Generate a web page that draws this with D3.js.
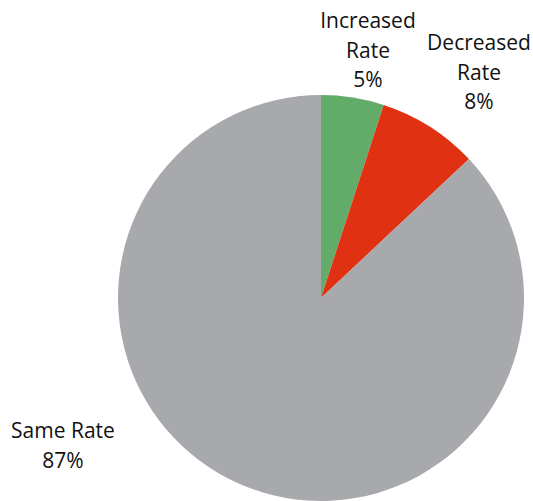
<!DOCTYPE html>
<html>
<head>
<meta charset="utf-8">
<script src="https://cdn.jsdelivr.net/npm/d3@7"></script>
<style>
  html, body { margin: 0; padding: 0; background: #fff; }
  svg { display: block; }
  text { font-family: "Open Sans", sans-serif; fill: #111; }
</style>
</head>
<body>
<svg id="chart" width="533" height="501"></svg>
<script>
// Share of rates
const categories = ["Increased Rate", "Decreased Rate", "Same Rate"];
const values = [5, 8, 87];
const colors = ["#63ab69", "#e03213", "#a8a9ac"];
// label lines and their anchor points (centre x, first baseline y)
const labelLines = [["Increased", "Rate", "5%"], ["Decreased", "Rate", "8%"], ["Same Rate", "87%"]];
const labelPos = [[368, 28], [479, 50], [63, 438]];

const width = 533, height = 501;
const cx = 321, cy = 298, radius = 203;
const lineHeight = 29.7;

const svg = d3.select("#chart");
const data = categories.map((c, i) => ({ name: c, value: values[i], color: colors[i] }));

const pie = d3.pie().sort(null).value(d => d.value);
const arc = d3.arc().innerRadius(0).outerRadius(radius);

const g = svg.append("g").attr("transform", `translate(${cx},${cy})`);
g.selectAll("path")
  .data(pie(data))
  .join("path")
  .attr("d", arc)
  .attr("fill", d => d.data.color);

const labels = svg.append("g")
  .selectAll("text")
  .data(data)
  .join("text")
  .attr("text-anchor", "middle")
  .attr("font-size", 21);

labels.each(function(d, i) {
  const t = d3.select(this);
  labelLines[i].forEach((line, j) => {
    t.append("tspan")
      .attr("x", labelPos[i][0])
      .attr("y", labelPos[i][1] + j * lineHeight)
      .text(line);
  });
});
</script>
</body>
</html>
